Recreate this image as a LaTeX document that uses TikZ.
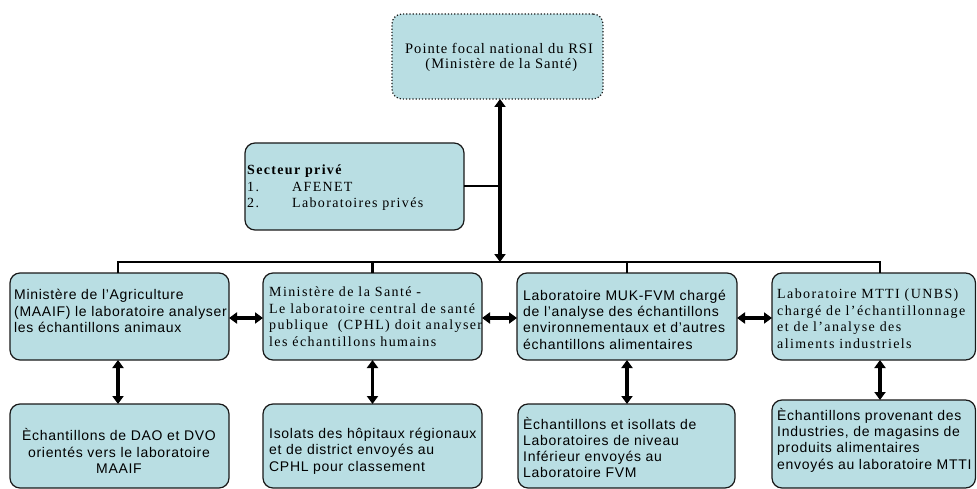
\documentclass[tikz,border=0pt]{standalone}
\usepackage{fontspec}
\setmainfont{Liberation Serif}
\newfontfamily\arialf{Liberation Sans}[LetterSpace=5]
\newfontfamily\timesf{Liberation Serif}
\newcommand{\tls}[1]{\addfontfeature{LetterSpace=#1}}
\usetikzlibrary{arrows.meta}
\definecolor{boxfill}{RGB}{185,222,227}
\definecolor{boxline}{RGB}{25,25,25}
\begin{document}
\begin{tikzpicture}[x=1pt,y=-1pt,
  box/.style={draw=boxline, line width=1.2pt, fill=boxfill, rounded corners=10pt, inner sep=0pt, outer sep=0pt},
  dotbox/.style={box, dotted},
  stxt/.style={anchor=west, inner sep=0pt, align=left, font=\arialf\fontsize{14}{16.3}\selectfont},
  ttxt/.style={anchor=west, inner sep=0pt, align=left, font=\timesf\fontsize{14}{16.5}\selectfont},
  link/.style={line width=2.8pt, draw=black},
  thin link/.style={line width=2pt, draw=black},
  dbl/.style={line width=3.5pt, {Triangle[length=8pt,width=11pt]}-{Triangle[length=8pt,width=11pt]}},
]
\useasboundingbox (0,0) rectangle (977,489);
% boxes
\node[dotbox, minimum width=211pt, minimum height=85pt] (top) at (497.5,56.5) {};
\node[box, minimum width=219pt, minimum height=87pt] (sect) at (354.5,186.5) {};
\node[box, minimum width=219pt, minimum height=87pt] (m1) at (119.5,316.5) {};
\node[box, minimum width=219pt, minimum height=87pt] (m2) at (372.5,316.5) {};
\node[box, minimum width=220pt, minimum height=87pt] (m3) at (627,316.5) {};
\node[box, minimum width=203.5pt, minimum height=87pt] (m4) at (873.75,316.5) {};
\node[box, minimum width=219pt, minimum height=84pt] (b1) at (119.5,446) {};
\node[box, minimum width=219pt, minimum height=84pt] (b2) at (372.5,446) {};
\node[box, minimum width=217pt, minimum height=84pt] (b3) at (626.5,446) {};
\node[box, minimum width=203.5pt, minimum height=88pt] (b4) at (873.75,444) {};
% texts
\node[ttxt, anchor=center, align=center, font=\timesf\tls{7}\fontsize{14.5}{15}\selectfont] (ttop) at (499,57.5) {Pointe focal national du RSI\\ \ (Ministère de la Santé)};
\node[ttxt, font=\timesf\tls{9.5}\fontsize{14}{16.5}\selectfont] (tsect) at (247,188) {\textbf{Secteur privé}\\ \makebox[45pt][l]{1.}AFENET\\ \makebox[45pt][l]{2.}Laboratoires privés};
\node[stxt] (tm1) at (14,311) {Ministère de l’Agriculture\\ (MAAIF) le laboratoire analyser\\ les échantillons animaux};
\node[ttxt, font=\timesf\tls{10}\fontsize{14}{16.5}\selectfont] (tm2) at (269,316.5) {Ministère de la Santé -\\ Le laboratoire central de santé\\ publique \ (CPHL) doit analyser\\ les échantillons humains};
\node[stxt] (tm3) at (523,319.5) {Laboratoire MUK-FVM chargé\\ de l’analyse des échantillons\\ environnementaux et d’autres\\ échantillons alimentaires};
\node[ttxt, font=\timesf\tls{10}\fontsize{14}{16.5}\selectfont] (tm4) at (777,318.5) {Laboratoire MTTI (UNBS)\\ chargé de l’échantillonnage\\ et de l’analyse des\\ aliments industriels};
\node[stxt, anchor=center, align=center] (tb1) at (119,451) {Èchantillons de DAO et DVO\\ orientés vers le laboratoire\\ MAAIF};
\node[stxt] (tb2) at (269,451) {Isolats des hôpitaux régionaux\\ et de district envoyés au\\ CPHL pour classement};
\node[stxt] (tb3) at (523,447.5) {Èchantillons et isollats de\\ Laboratoires de niveau\\ Inférieur envoyés au\\ Laboratoire FVM};
\node[stxt] (tb4) at (777,440) {Èchantillons provenant des\\ Industries, de magasins de\\ produits alimentaires\\ envoyés au laboratoire MTTI};
% junction coordinates
\coordinate (j1) at (118,262);
\coordinate (j2) at (372.5,262);
\coordinate (j3) at (627,262);
\coordinate (j4) at (880,262);
\coordinate (jt) at (500,262);
\coordinate (ha) at (0,318);
% bus and drops
\draw[link] (j1 |- m1.north) -- (j1) -- (j4) -- (j4 |- m4.north);
\draw[link] (j2) -- (j2 |- m2.north);
\draw[link] (j3) -- (j3 |- m3.north);
\draw[thin link] (sect.east) -- (sect.east -| jt);
\draw[dbl] (jt |- top.south) -- (jt);
% horizontal arrows
\draw[dbl] (m1.east |- ha) -- (m2.west |- ha);
\draw[dbl] (m2.east |- ha) -- (m3.west |- ha);
\draw[dbl] (m3.east |- ha) -- (m4.west |- ha);
% vertical arrows
\draw[dbl] (j1 |- m1.south) -- (j1 |- b1.north);
\draw[dbl] (j2 |- m2.south) -- (j2 |- b2.north);
\draw[dbl] (j3 |- m3.south) -- (j3 |- b3.north);
\draw[dbl] (j4 |- m4.south) -- (j4 |- b4.north);
\end{tikzpicture}
\end{document}
